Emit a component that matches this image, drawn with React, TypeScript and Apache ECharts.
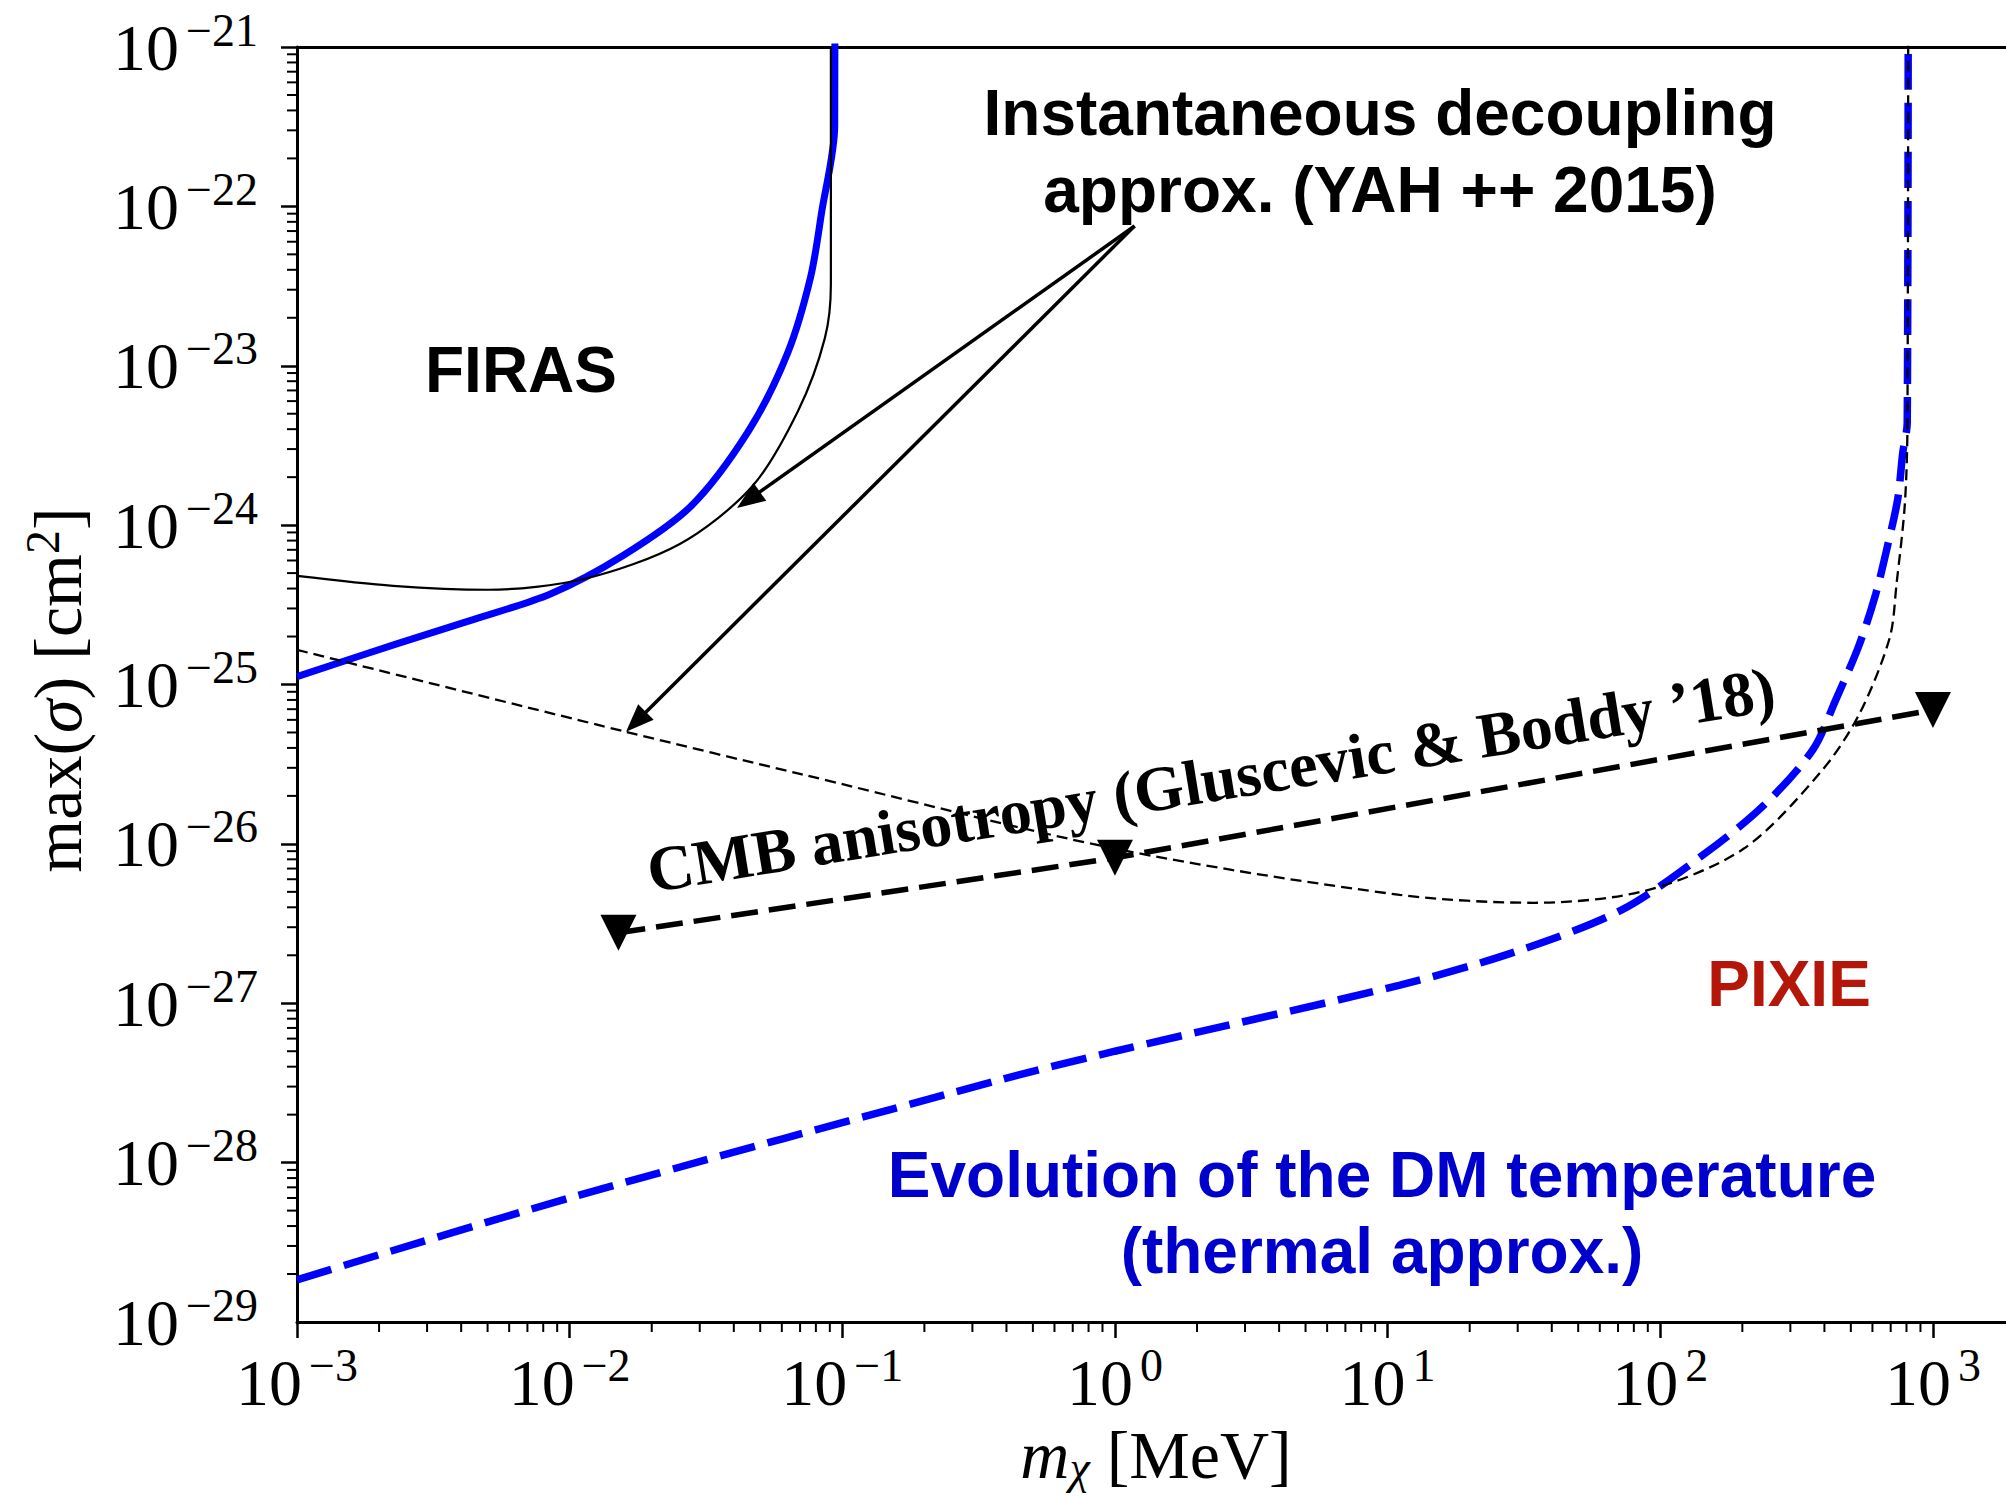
import React, { useEffect, useRef } from 'react';
import * as echarts from 'echarts';

const SANS = '"Liberation Sans", Arial, Helvetica, sans-serif';
const SERIF = '"Liberation Serif", "Times New Roman", Times, serif';

// ---------- axes ----------
const X_MIN = 1e-3;
const X_MAX = 2000;
const Y_MIN = 1e-29;
const Y_MAX = 1e-21;
const xDecades = [-3, -2, -1, 0, 1, 2, 3];
const yDecades = [-29, -28, -27, -26, -25, -24, -23, -22, -21];
const minorMultipliers = [2, 3, 4, 5, 6, 7, 8, 9];

// ---------- FIRAS, evolution of the DM temperature (thick solid blue) ----------
const firasThermalMass = [0.001, 0.00232, 0.00428, 0.0085, 0.0156, 0.0279, 0.0455, 0.063, 0.0765, 0.084, 0.0938, 0.094];
const firasThermalSigma = [1.12e-25, 1.8e-25, 2.51e-25, 3.7e-25, 6.4e-25, 1.32e-24, 3.95e-24, 1.2e-23, 3.6e-23, 9.2e-23, 3.2e-22, 1e-20];

// ---------- FIRAS, instantaneous decoupling (thin solid black) ----------
const firasInstMass = [0.001, 0.00225, 0.00501, 0.01127, 0.02535, 0.0466, 0.0688, 0.0863, 0.0908, 0.0908];
const firasInstSigma = [4.8e-25, 4.16e-25, 3.93e-25, 4.59e-25, 7.62e-25, 1.74e-24, 5.2e-24, 1.49e-23, 3.26e-23, 1e-20];

// ---------- PIXIE, evolution of the DM temperature (thick dashed blue) ----------
const pixieThermalMass = [0.001, 0.01, 0.378, 1, 11.1, 29.3, 72.2, 147, 240, 363, 440, 535, 617, 683, 743, 775, 805, 812];
const pixieThermalSigma = [1.84e-29, 6.0e-29, 3.3e-28, 5.0e-28, 1.3e-27, 2.1e-27, 3.85e-27, 8.79e-27, 1.75e-26, 3.9e-26, 8.0e-26, 1.75e-25, 3.7e-25, 7.52e-25, 1.46e-24, 2.84e-24, 4.4e-24, 1e-20];

// ---------- PIXIE, instantaneous decoupling (thin dashed black) ----------
const pixieInstMass = [0.001, 0.01607, 0.0699, 1.008, 11.08, 34.4, 87.7, 202, 388, 535, 694, 736, 788, 806, 812];
const pixieInstSigma = [1.65e-25, 5.05e-26, 2.75e-26, 9.31e-27, 4.79e-27, 4.27e-27, 5.07e-27, 9.31e-27, 2.83e-26, 6.44e-26, 1.96e-25, 4.34e-25, 1.32e-24, 3.95e-24, 1e-20];

// ---------- CMB anisotropy (Gluscevic & Boddy '18) ----------
const cmbMass = [0.0151, 1, 1000];
const cmbSigma = [2.77e-27, 8.17e-27, 6.93e-26];

// ---------- annotation arrows ----------
const arrowFrom = [1.18, 7.53e-23];
const arrowToMass = [0.0411, 0.0161];
const arrowToSigma = [1.28e-24, 5.05e-26];

const zip = (xs: number[], ys: number[]) => xs.map((x, i) => [x, ys[i]]);

const xMinorTicks: number[] = [];
xDecades.forEach((d) => minorMultipliers.forEach((k) => {
  const v = k * Math.pow(10, d);
  if (v > X_MIN && v < X_MAX) xMinorTicks.push(v);
}));
const yMinorTicks: number[] = [];
yDecades.forEach((d) => minorMultipliers.forEach((k) => {
  const v = k * Math.pow(10, d);
  if (v > Y_MIN && v < Y_MAX) yMinorTicks.push(v);
}));

const powLabel = (v: number) => {
  const e = Math.round(Math.log10(v));
  const s = e < 0 ? '\u2212' + Math.abs(e) : String(e);
  return '{b|10}{e|' + s + '}';
};

const tickRich = {
  b: { fontFamily: SERIF, fontSize: 66, lineHeight: 80, color: '#000', fill: '#000', verticalAlign: 'middle' },
  e: { fontFamily: SERIF, fontSize: 46, lineHeight: 44, color: '#000', fill: '#000', verticalAlign: 'top', padding: [0, 0, 0, 7] },
};

const axisLineStyle = { color: '#000', width: 3 };

const textEl = (text: string, x: number, y: number, font: string, fill: string) => ({
  type: 'text',
  x,
  y,
  z: 100,
  silent: true,
  style: {
    text,
    x: 0,
    y: 0,
    font,
    fill,
    align: 'center',
    verticalAlign: 'middle',
    textAlign: 'center',
    textVerticalAlign: 'middle',
  },
});

const buildOption = () => ({
  animation: false,
  backgroundColor: '#fff',
  grid: { left: 297, top: 47, right: -9, bottom: 178, containLabel: false, outerBoundsMode: 'none' },
  xAxis: [
    {
      type: 'log',
      logBase: 10,
      min: X_MIN,
      max: X_MAX,
      position: 'bottom',
      axisLine: { show: true, onZero: false, lineStyle: axisLineStyle },
      axisTick: { show: true, inside: false, length: 16, lineStyle: { color: '#000', width: 2.5 } },
      axisLabel: {
        show: true,
        margin: 20,
        showMinLabel: true,
        showMaxLabel: false,
        hideOverlap: false,
        formatter: powLabel,
        rich: tickRich,
      },
      splitLine: { show: false },
      minorTick: { show: false },
      name: '{i|m}{s|\u03c7}{n| [MeV]}',
      nameLocation: 'middle',
      nameGap: 97,
      nameTextStyle: {
        rich: {
          i: { fontFamily: SERIF, fontStyle: 'italic', fontSize: 68, lineHeight: 72, color: '#000' },
          s: { fontFamily: SERIF, fontStyle: 'italic', fontSize: 46, lineHeight: 46, padding: [24, 0, 0, 0], color: '#000' },
          n: { fontFamily: SERIF, fontSize: 68, lineHeight: 72, color: '#000' },
        },
      },
    },
    {
      type: 'log',
      logBase: 10,
      min: X_MIN,
      max: X_MAX,
      position: 'top',
      axisLine: { show: true, onZero: false, lineStyle: axisLineStyle },
      axisTick: { show: false },
      axisLabel: { show: false },
      splitLine: { show: false },
    },
  ],
  yAxis: [
    {
      type: 'log',
      logBase: 10,
      min: Y_MIN,
      max: Y_MAX,
      position: 'left',
      axisLine: { show: true, onZero: false, lineStyle: axisLineStyle },
      axisTick: { show: true, inside: false, length: 16, lineStyle: { color: '#000', width: 2.5 } },
      axisLabel: { show: false },
      splitLine: { show: false },
      minorTick: { show: false },
    },
  ],
  series: [
    {
      type: 'custom',
      coordinateSystem: 'cartesian2d',
      silent: true,
      clip: false,
      z: 5,
      data: xMinorTicks.map((v) => [v, Y_MIN]),
      renderItem: (_p: any, api: any) => {
        const pt = api.coord([api.value(0), Y_MIN]);
        return { type: 'line', shape: { x1: pt[0], y1: pt[1], x2: pt[0], y2: pt[1] + 10 }, style: { stroke: '#000', lineWidth: 2 } };
      },
    },
    {
      type: 'custom',
      coordinateSystem: 'cartesian2d',
      silent: true,
      clip: false,
      z: 5,
      data: yMinorTicks.map((v) => [X_MIN, v]),
      renderItem: (_p: any, api: any) => {
        const pt = api.coord([X_MIN, api.value(1)]);
        return { type: 'line', shape: { x1: pt[0], y1: pt[1], x2: pt[0] - 10, y2: pt[1] }, style: { stroke: '#000', lineWidth: 2 } };
      },
    },
    {
      // y tick labels (10^n), placed through the y axis scale
      type: 'custom',
      coordinateSystem: 'cartesian2d',
      silent: true,
      clip: false,
      z: 10,
      data: yDecades.map((d) => [X_MIN, Math.pow(10, d)]),
      renderItem: (_p: any, api: any) => {
        const pt = api.coord([X_MIN, api.value(1)]);
        return {
          type: 'text',
          x: pt[0] - 39,
          y: pt[1],
          style: {
            text: powLabel(api.value(1)),
            rich: tickRich,
            font: '66px ' + SERIF,
            fill: '#000',
            align: 'right',
            verticalAlign: 'middle',
          },
        };
      },
    },
    {
      name: 'FIRAS thermal',
      type: 'line',
      data: zip(firasThermalMass, firasThermalSigma),
      showSymbol: false,
      symbol: 'none',
      smooth: 0.3,
      clip: true,
      lineStyle: { color: '#0000ff', width: 7 },
      silent: true,
    },
    {
      name: 'FIRAS instantaneous',
      type: 'line',
      data: zip(firasInstMass, firasInstSigma),
      showSymbol: false,
      symbol: 'none',
      smooth: 0.3,
      clip: true,
      lineStyle: { color: '#000', width: 2.2 },
      silent: true,
    },
    {
      name: 'PIXIE thermal',
      type: 'line',
      data: zip(pixieThermalMass, pixieThermalSigma),
      showSymbol: false,
      symbol: 'none',
      smooth: 0.3,
      clip: true,
      lineStyle: { color: '#0000ff', width: 7.5, type: [36, 13] },
      silent: true,
    },
    {
      name: 'PIXIE instantaneous',
      type: 'line',
      data: zip(pixieInstMass, pixieInstSigma),
      showSymbol: false,
      symbol: 'none',
      smooth: 0.3,
      clip: true,
      lineStyle: { color: '#000', width: 2.3, type: [11, 6] },
      silent: true,
    },
    {
      name: 'CMB anisotropy',
      type: 'line',
      data: zip(cmbMass, cmbSigma),
      showSymbol: true,
      symbol: 'triangle',
      symbolRotate: 180,
      symbolSize: 36,
      clip: false,
      lineStyle: { color: '#000', width: 5.5, type: [27, 11] },
      itemStyle: { color: '#000', borderWidth: 0 },
      silent: true,
      z: 4,
    },
    {
      name: 'arrows',
      type: 'custom',
      coordinateSystem: 'cartesian2d',
      silent: true,
      clip: false,
      z: 6,
      encode: { x: [0, 2], y: [1, 3] },
      data: arrowToMass.map((m, i) => [arrowFrom[0], arrowFrom[1], m, arrowToSigma[i]]),
      renderItem: (_p: any, api: any) => {
        const a = api.coord([api.value(0), api.value(1)]);
        const b = api.coord([api.value(2), api.value(3)]);
        const dx = b[0] - a[0];
        const dy = b[1] - a[1];
        const len = Math.sqrt(dx * dx + dy * dy) || 1;
        const ux = dx / len;
        const uy = dy / len;
        const hl = 28;
        const hw = 11;
        const bx = b[0] - ux * hl;
        const by = b[1] - uy * hl;
        return {
          type: 'group',
          children: [
            { type: 'line', shape: { x1: a[0], y1: a[1], x2: bx + ux * 3, y2: by + uy * 3 }, style: { stroke: '#000', lineWidth: 3.5 } },
            {
              type: 'polygon',
              shape: { points: [[b[0], b[1]], [bx - uy * hw, by + ux * hw], [bx + uy * hw, by - ux * hw]] },
              style: { fill: '#000' },
            },
          ],
        };
      },
    },
  ],
  graphic: [
    textEl('Instantaneous decoupling', 1380, 113, 'bold 64px ' + SANS, '#000'),
    textEl('approx. (YAH ++ 2015)', 1380, 190, 'bold 64px ' + SANS, '#000'),
    textEl('FIRAS', 521, 370, 'bold 64px ' + SANS, '#000'),
    textEl('PIXIE', 1789, 984, 'bold 64px ' + SANS, '#B4170A'),
    textEl('Evolution of the DM temperature', 1382, 1175, 'bold 64px ' + SANS, '#0000CD'),
    textEl('(thermal approx.)', 1382, 1251, 'bold 64px ' + SANS, '#0000CD'),
    {
      type: 'text',
      x: 651,
      y: 893,
      rotation: 0.1606,
      z: 100,
      silent: true,
      style: {
        text: 'CMB anisotropy (Gluscevic & Boddy \u201918)',
        x: 0,
        y: -22,
        font: 'bold 64px ' + SERIF,
        fill: '#000',
        align: 'left',
        verticalAlign: 'middle',
        textAlign: 'left',
        textVerticalAlign: 'middle',
      },
    },
    {
      type: 'text',
      x: 58,
      y: 690,
      rotation: Math.PI / 2,
      z: 100,
      silent: true,
      style: {
        text: '{n|max(}{i|\u03c3}{n|) [cm}{p|2}{n|]}',
        x: 0,
        y: 0,
        font: '68px ' + SERIF,
        fill: '#000',
        align: 'center',
        verticalAlign: 'middle',
        textAlign: 'center',
        textVerticalAlign: 'middle',
        rich: {
          n: { fontFamily: SERIF, fontSize: 68, lineHeight: 80, fill: '#000', color: '#000' },
          i: { fontFamily: SERIF, fontStyle: 'italic', fontSize: 68, lineHeight: 80, fill: '#000', color: '#000' },
          p: { fontFamily: SERIF, fontSize: 48, lineHeight: 44, verticalAlign: 'top', fill: '#000', color: '#000' },
        },
      },
    },
  ],
});

export default function App() {
  const ref = useRef<HTMLDivElement>(null);
  useEffect(() => {
    if (!ref.current) return;
    const chart = echarts.init(ref.current, null, { renderer: 'svg' });
    chart.setOption(buildOption() as any);
    return () => chart.dispose();
  }, []);
  return (
    <div
      ref={ref}
      style={{ position: 'absolute', left: 0, top: 0, width: 2006, height: 1500, background: '#fff' }}
    />
  );
}
